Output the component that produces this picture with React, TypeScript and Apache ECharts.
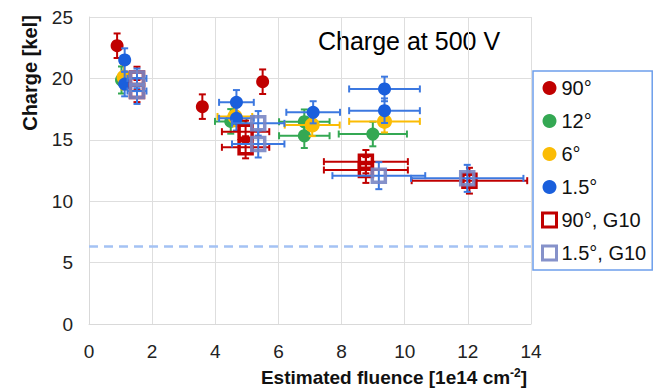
import React, { useEffect, useRef } from "react";
import * as echarts from "echarts";

// Each row: [estimated fluence (1e14 cm^-2), charge (kel), fluence error, charge error]
const deg90 = [
  [0.89, 22.66, 0, 1.0],
  [3.59, 17.7, 0, 1.0],
  [5.5, 19.73, 0, 1.0],
];
const deg12 = [
  [1.03, 19.87, 0, 1.1],
  [4.49, 16.5, 0.5, 1.0],
  [6.82, 16.47, 0.8, 1.0],
  [6.82, 15.33, 0.8, 1.0],
  [8.99, 15.47, 1.08, 1.0],
];
const deg6 = [
  [1.11, 20.1, 0, 1.0],
  [4.62, 16.9, 0.55, 0.8],
  [7.07, 16.2, 0.87, 0.9],
  [9.36, 16.5, 1.12, 0.9],
];
const deg1p5 = [
  [1.13, 21.5, 0, 0.95],
  [1.13, 19.54, 0, 1.0],
  [4.67, 18.05, 0.55, 1.0],
  [4.67, 16.75, 0.55, 1.0],
  [7.1, 17.24, 0.85, 0.9],
  [9.36, 19.14, 1.12, 1.0],
  [9.36, 17.37, 1.12, 1.0],
];
const deg90G10 = [
  [1.52, 20.0, 0.2, 0.95],
  [1.52, 18.97, 0.2, 0.9],
  [4.96, 15.66, 0.75, 0.9],
  [4.96, 14.39, 0.75, 0.9],
  [8.77, 13.22, 1.33, 0.95],
  [8.77, 12.54, 1.33, 1.05],
  [12.05, 11.67, 1.83, 1.05],
];
const deg1p5G10 = [
  [1.52, 20.0, 0.3, 0.8],
  [1.52, 18.97, 0.3, 1.05],
  [5.36, 16.34, 0.83, 1.0],
  [5.36, 14.66, 0.83, 1.1],
  [9.18, 12.08, 1.47, 1.1],
  [11.98, 11.86, 1.78, 1.1],
];
const thresholdCharge = 6.35;

const xTicks = { min: 0, max: 14, interval: 2 };
const yTicks = { min: 0, max: 25, interval: 5 };

const FONT = "Liberation Sans, Arial, sans-serif";

function errorBars(name: string, data: number[][], color: string, z: number) {
  return {
    type: "custom",
    name,
    z,
    silent: true,
    data,
    encode: { x: 0, y: 1 },
    renderItem: (params: any, api: any) => {
      const x = api.value(0);
      const y = api.value(1);
      const ex = api.value(2);
      const ey = api.value(3);
      const cap = 3.5;
      const st = { stroke: color, lineWidth: 2 };
      const children: any[] = [];
      const ln = (x1: number, y1: number, x2: number, y2: number) => ({
        type: "line",
        shape: { x1, y1, x2, y2 },
        style: st,
      });
      if (ey > 0) {
        const t = api.coord([x, y + ey]);
        const b = api.coord([x, y - ey]);
        children.push(ln(t[0], t[1], b[0], b[1]));
        children.push(ln(t[0] - cap, t[1], t[0] + cap, t[1]));
        children.push(ln(b[0] - cap, b[1], b[0] + cap, b[1]));
      }
      if (ex > 0) {
        const l = api.coord([x - ex, y]);
        const r = api.coord([x + ex, y]);
        children.push(ln(l[0], l[1], r[0], r[1]));
        children.push(ln(l[0], l[1] - cap, l[0], l[1] + cap));
        children.push(ln(r[0], r[1] - cap, r[0], r[1] + cap));
      }
      return { type: "group", children };
    },
  };
}

function circles(name: string, data: number[][], color: string, size: number, z: number) {
  return {
    type: "scatter",
    name,
    z,
    data: data.map((d) => [d[0], d[1]]),
    symbol: "circle",
    symbolSize: size,
    itemStyle: { color, opacity: 1 },
  };
}

function squares(name: string, data: number[][], color: string, z: number, opacity: number) {
  return {
    type: "scatter",
    name,
    z,
    data: data.map((d) => [d[0], d[1]]),
    symbol: "rect",
    symbolSize: 13,
    itemStyle: { color: "rgba(255,255,255,0)", borderColor: color, borderWidth: 3.5, opacity },
  };
}

export default function App() {
  const ref = useRef<HTMLDivElement>(null);
  useEffect(() => {
    if (!ref.current) return;
    const chart = echarts.init(ref.current, undefined, { renderer: "svg" });
    const red = "#c00000";
    const green = "#34a853";
    const yellow = "#fbbc04";
    const blue = "#1a5fdc";
    const blueErr = "#3c78e0";
    const slate = "#7986c4";
    const option: any = {
      animation: false,
      backgroundColor: "#fff",
      grid: { left: 89, right: 131, top: 17, bottom: 64 },
      xAxis: {
        type: "value",
        ...xTicks,
        axisLine: { show: true, lineStyle: { color: "#d9d9d9", width: 1 } },
        axisTick: { show: false },
        splitLine: { show: true, lineStyle: { color: "#dedede", width: 1 } },
        axisLabel: { fontSize: 19, color: "#222", fontFamily: FONT, margin: 18 },
      },
      yAxis: {
        type: "value",
        ...yTicks,
        axisLine: { show: true, lineStyle: { color: "#d9d9d9", width: 1 } },
        axisTick: { show: false },
        splitLine: { show: true, lineStyle: { color: "#dedede", width: 1 } },
        axisLabel: { fontSize: 19, color: "#222", fontFamily: FONT, margin: 16 },
      },
      legend: {
        orient: "vertical",
        left: 533,
        top: 71,
        padding: [7, 6, 7, 8],
        itemGap: 13,
        itemWidth: 14,
        itemHeight: 14,
        borderColor: "#6d9eeb",
        borderWidth: 1.5,
        backgroundColor: "#fff",
        textStyle: { fontSize: 20, lineHeight: 20, color: "#111", fontFamily: FONT },
        data: [
          { name: "90°", icon: "circle" },
          { name: "12°", icon: "circle" },
          { name: "6°", icon: "circle" },
          { name: "1.5°", icon: "circle" },
          {
            name: "90°, G10",
            icon: "rect",
            itemStyle: { color: "#fff", borderColor: red, borderWidth: 3 },
          },
          {
            name: "1.5°, G10",
            icon: "rect",
            itemStyle: { color: "#fff", borderColor: slate, borderWidth: 3 },
          },
        ],
      },
      graphic: [
        {
          type: "text",
          x: 318,
          y: 28,
          style: {
            text: "Charge at 500 V",
            font: `25px ${FONT}`,
            fill: "#000",
            verticalAlign: "top",
          },
        },
        {
          type: "text",
          x: 30,
          y: 73,
          rotation: Math.PI / 2,
          style: {
            text: "Charge [kel]",
            font: `bold 20px ${FONT}`,
            fill: "#111",
            align: "center",
            verticalAlign: "middle",
          },
        },
        {
          type: "text",
          x: 394,
          y: 377,
          style: {
            text: "{a|Estimated fluence [1e14 cm}{s|-2}{a|]}",
            align: "center",
            verticalAlign: "middle",
            rich: {
              a: { font: `bold 19px ${FONT}`, fill: "#111" },
              s: { font: `bold 12px ${FONT}`, fill: "#111", padding: [0, 0, 8, 0] },
            },
          },
        },
      ],
      series: [
        {
          type: "line",
          name: "threshold",
          data: [],
          z: 1,
          markLine: {
            silent: true,
            symbol: "none",
            label: { show: false },
            lineStyle: { color: "#a4c2f4", type: [9, 6], width: 2.5 },
            data: [{ yAxis: thresholdCharge }],
          },
        },
        errorBars("90°-err", deg90, red, 2),
        circles("90°", deg90, red, 13, 3),
        errorBars("12°-err", deg12, green, 4),
        circles("12°", deg12, green, 13, 5),
        errorBars("6°-err", deg6, yellow, 6),
        circles("6°", deg6, yellow, 15, 7),
        errorBars("1.5°-err", deg1p5, blueErr, 8),
        circles("1.5°", deg1p5, blue, 13, 9),
        errorBars("90°, G10-err", deg90G10, red, 10),
        squares("90°, G10", deg90G10, red, 11, 1),
        errorBars("1.5°, G10-err", deg1p5G10, blueErr, 12),
        squares("1.5°, G10", deg1p5G10, slate, 13, 0.9),
      ],
    };
    chart.setOption(option);
    return () => chart.dispose();
  }, []);
  return (
    <div
      ref={ref}
      style={{ position: "fixed", left: 0, top: 0, width: 662, height: 388 }}
    />
  );
}
